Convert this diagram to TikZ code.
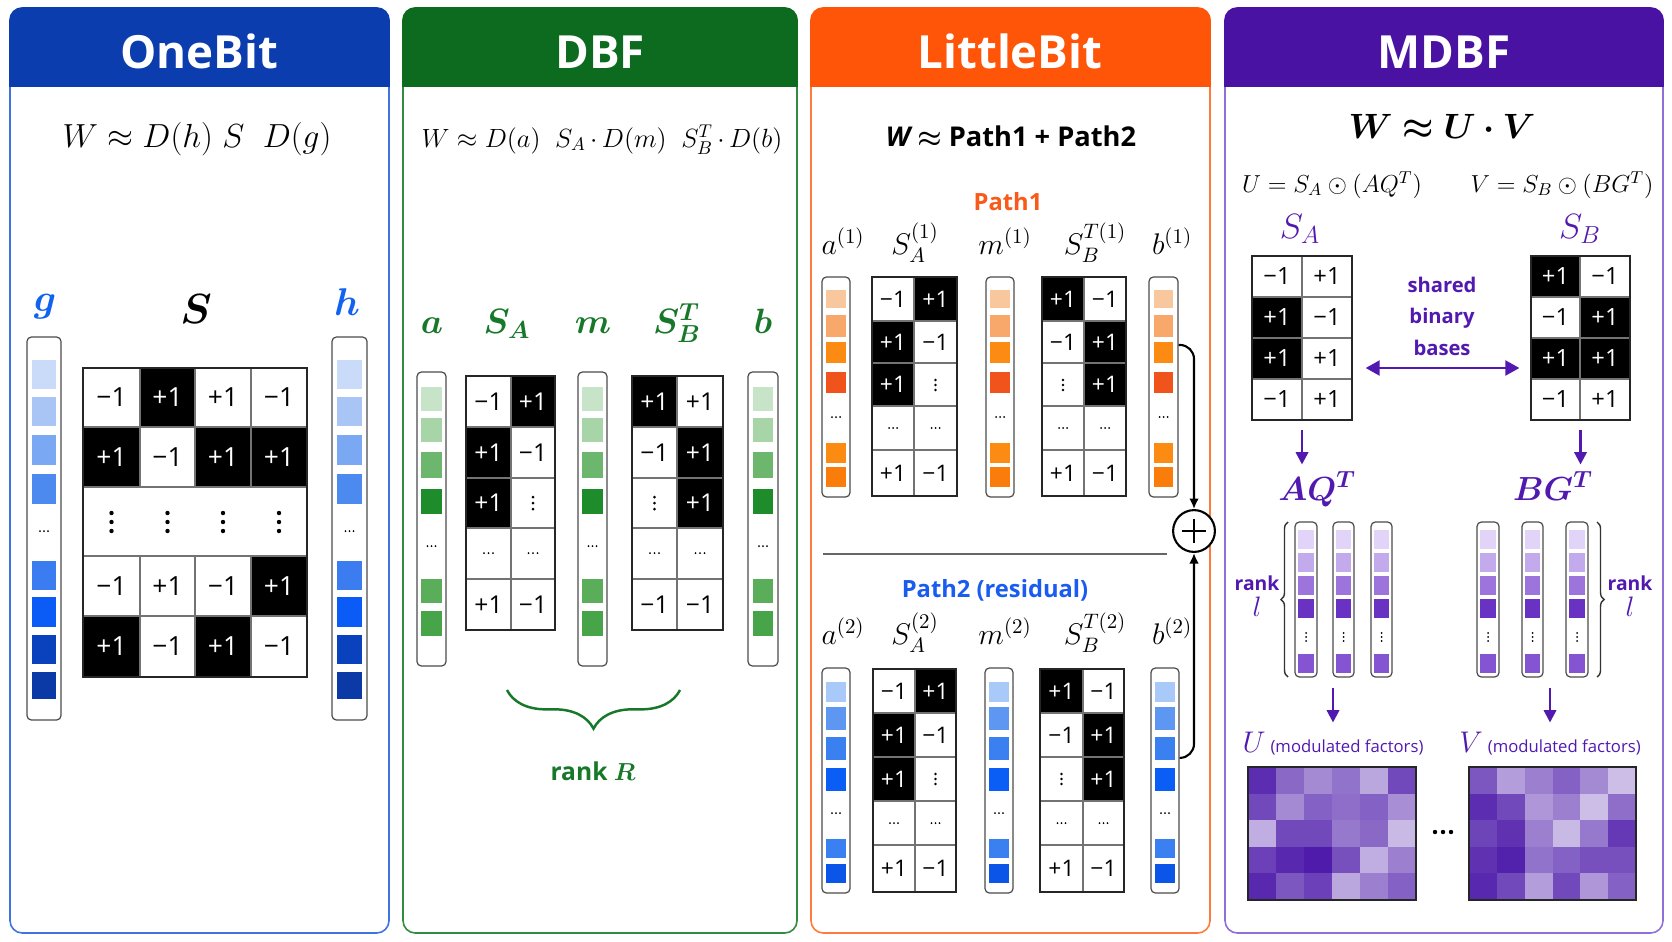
\RequirePackage{fix-cm}
\documentclass[tikz,border=0pt]{standalone}
\usepackage{amsmath,bm}
\usepackage[no-math]{fontspec}
\setmainfont{Open Sans}
\usetikzlibrary{arrows.meta,calc,fit,decorations.pathreplacing}
\newcommand\FS[1]{\fontsize{#1}{#1}\selectfont}
\definecolor{obHead}{HTML}{0B3DAF}\definecolor{obLine}{HTML}{3F73E0}\definecolor{obLab}{HTML}{1262F0}
\definecolor{dbHead}{HTML}{0D6B1F}\definecolor{dbLine}{HTML}{2F8C40}\definecolor{dbLab}{HTML}{17782A}
\definecolor{lbHead}{HTML}{FF5509}\definecolor{lbLine}{HTML}{FF7A3D}\definecolor{lbPath}{HTML}{F85A1A}\definecolor{lbBlue}{HTML}{1A5CF0}
\definecolor{mdHead}{HTML}{4A12A2}\definecolor{mdLine}{HTML}{9070D8}\definecolor{mdLab}{HTML}{5219B0}\definecolor{hp}{HTML}{4A16A8}
\definecolor{ob1}{HTML}{C9DBF8}\definecolor{ob2}{HTML}{A9C5F5}\definecolor{ob3}{HTML}{7BA8F2}\definecolor{ob4}{HTML}{4C8AF0}
\definecolor{ob5}{HTML}{3B7DF0}\definecolor{ob6}{HTML}{0B5CF6}\definecolor{ob7}{HTML}{0A42BD}\definecolor{ob8}{HTML}{0B3AA6}
\definecolor{g1}{HTML}{C8E4C8}\definecolor{g2}{HTML}{A8D5A8}\definecolor{g3}{HTML}{6DB66D}\definecolor{g4}{HTML}{1E8C2A}\definecolor{g5}{HTML}{5AAE5A}\definecolor{g6}{HTML}{48A448}
\definecolor{o1}{HTML}{F9C79E}\definecolor{o2}{HTML}{F9A86C}\definecolor{o3}{HTML}{FB8B12}\definecolor{o4}{HTML}{F0541C}\definecolor{o5}{HTML}{FB8B12}\definecolor{o6}{HTML}{FA7C0A}
\definecolor{p1}{HTML}{A9C9F8}\definecolor{p2}{HTML}{5E97F1}\definecolor{p3}{HTML}{3A80F0}\definecolor{p4}{HTML}{0B5EF5}\definecolor{p5}{HTML}{3A80F0}\definecolor{p6}{HTML}{0B56E8}
\definecolor{u1}{HTML}{E2D4F8}\definecolor{u2}{HTML}{C2AAEC}\definecolor{u3}{HTML}{9C74DC}\definecolor{u4}{HTML}{6A32C2}\definecolor{u5}{HTML}{8454D2}
\tikzset{
  panelbox/.style={line width=0.9pt, rounded corners=7pt, fill=white},
  bar/.style={draw=black!70, line width=0.7pt, rounded corners=2.5pt, inner sep=0pt},
  matbox/.style={draw=black!85, line width=0.75pt, inner sep=0pt},
  gridl/.style={draw=black!55, line width=0.6pt},
  cnum/.style={inner sep=0pt},
  title/.style={text=white, font=\FS{26}\bfseries, anchor=base},
  lab/.style={anchor=base, inner sep=0pt},
  conn/.style={draw=black, line width=1.2pt, -{Latex[length=6pt,width=5.5pt]}},
  parrow/.style={draw=mdLab, line width=1.4pt, -{Triangle[length=7pt,width=7pt]}},
  pdarrow/.style={draw=mdLab, line width=1.5pt, {Triangle[length=8pt,width=8.5pt]}-{Triangle[length=8pt,width=8.5pt]}},
  brc/.style={decorate, line width=0.8pt, draw=black!80},
}
\newcounter{cellno}
\newcommand\CB[6]{\fill[black] (#1,#2) rectangle (#3,#4);\stepcounter{cellno}\node[cnum,text=white,font=\FS{#6}] (cell\the\value{cellno}) at ({(#1+#3)/2},{(#2+#4)/2}) {#5};}
\newcommand\CW[6]{\stepcounter{cellno}\node[cnum,font=\FS{#6}] (cell\the\value{cellno}) at ({(#1+#3)/2},{(#2+#4)/2}) {#5};}
\newcommand\CN[6]{}
\newcommand\Cell[6]{\csname C#5\endcsname{#1}{#2}{#3}{#4}{#6}{\cellsize}}
\newcommand\RowTwo[9]{\Cell{#1}{#4}{#2}{#5}{#6}{#7}\Cell{#2}{#4}{#3}{#5}{#8}{#9}}
\newcommand\HDots[4]{\foreach \k in {-1,0,1} {\fill ({#1+\k*#3},#2) circle[radius=#4];}}
\newcommand\VDots[4]{\foreach \k in {-1,0,1} {\fill (#1,{#2+\k*#3}) circle[radius=#4];}}
\newcommand\VBar[9]{%
  \node[bar, fit={(#2,#4) (#3,#5)}] (#1) {};
  \edef\barlist{#7}%
  \foreach \ya/\yb/\cc in \barlist {\fill[\cc] ({#2+#6},\ya) rectangle ({#3-#6},\yb);}
  \pgfmathsetmacro\bx{(#2+#3)/2}#9{\bx}{#8}{4}{1}}
\newcommand\MatTwo[7]{%
  \draw[gridl] (#3,#5)--(#3,#6); \foreach \yy in {#7} {\draw[gridl] (#2,\yy)--(#4,\yy);}
  \node[matbox, fit={(#2,#5) (#4,#6)}] (#1) {};}
\def\mo{−1}\def\po{+1}
\begin{document}
\begin{tikzpicture}[x=0.02cm,y=-0.02cm]
\useasboundingbox (0,0) rectangle (1672,941);
\fill[white] (0,0) rectangle (1672,941);
% ---------- panels
\draw[panelbox, draw=obLine] (10,8) rectangle (389,933);
\filldraw[obHead, line width=0.9pt, rounded corners=7pt] (10,8) rectangle (389,86);
\filldraw[obHead, line width=0.9pt] (10,45) rectangle (389,86);
\node[title] (t1) at (199.5,68) {OneBit};
\draw[panelbox, draw=dbLine] (403,8) rectangle (797,933);
\filldraw[dbHead, line width=0.9pt, rounded corners=7pt] (403,8) rectangle (797,86);
\filldraw[dbHead, line width=0.9pt] (403,45) rectangle (797,86);
\node[title] (t2) at (600,68) {DBF};
\draw[panelbox, draw=lbLine] (811,8) rectangle (1210,933);
\filldraw[lbHead, line width=0.9pt, rounded corners=7pt] (811,8) rectangle (1210,86);
\filldraw[lbHead, line width=0.9pt] (811,45) rectangle (1210,86);
\node[title] (t3) at (1010,68) {LittleBit};
\draw[panelbox, draw=mdLine] (1225,8) rectangle (1663,933);
\filldraw[mdHead, line width=0.9pt, rounded corners=7pt] (1225,8) rectangle (1663,86);
\filldraw[mdHead, line width=0.9pt] (1225,45) rectangle (1663,86);
\node[title] (t4) at (1444,68) {MDBF};
% ---------- OneBit
\node[lab] (f1) at (197,147) {\FS{19}$W \approx D(h)\;S\;\;D(g)$};
\node[lab, text=obLab] (lg) at (45,311) {\FS{22}$\bm{g}$};
\node[lab] (lS) at (196,323) {\FS{24}$\bm{S}$};
\node[lab, text=obLab] (lh) at (347,315) {\FS{22}$\bm{h}$};
\def\blist{360/389/ob1,397/426/ob2,435/465/ob3,474/504/ob4,561/590/ob5,597/627/ob6,635/664/ob7,672/699/ob8}
\VBar{gv}{27}{61}{337}{720}{5}{\blist}{531}{\HDots}
\VBar{hv}{332}{367}{337}{720}{5}{\blist}{531}{\HDots}
\def\cellsize{15}
\Cell{83}{368}{140}{427}{W}{\mo}\Cell{140}{368}{195}{427}{B}{\po}\Cell{195}{368}{251}{427}{W}{\po}\Cell{251}{368}{307}{427}{W}{\mo}
\Cell{83}{427}{140}{487}{B}{\po}\Cell{140}{427}{195}{487}{W}{\mo}\Cell{195}{427}{251}{487}{B}{\po}\Cell{251}{427}{307}{487}{B}{\po}
\Cell{83}{556}{140}{616}{W}{\mo}\Cell{140}{556}{195}{616}{W}{\po}\Cell{195}{556}{251}{616}{W}{\mo}\Cell{251}{556}{307}{616}{B}{\po}
\Cell{83}{616}{140}{677}{B}{\po}\Cell{140}{616}{195}{677}{W}{\mo}\Cell{195}{616}{251}{677}{B}{\po}\Cell{251}{616}{307}{677}{W}{\mo}
\draw[gridl] (83,427)--(307,427) (83,487)--(307,487) (83,556)--(307,556) (83,616)--(307,616);
\draw[gridl] (140,368)--(140,487) (195,368)--(195,487) (251,368)--(251,487) (140,556)--(140,677) (195,556)--(195,677) (251,556)--(251,677);
\node[matbox, fit={(83,368) (307,677)}] (Smat) {};
\foreach \xx in {111.5,167.5,223,279} {\VDots{\xx}{522}{9}{2.2}}
% ---------- DBF
\node[lab] (f2) at (602,147) {\FS{15}$W \approx D(a)\;\;S_A{\,\cdot\,}D(m)\;\;S_B^T{\,\cdot\,}D(b)$};
\node[lab, text=dbLab] (la) at (432,333) {\FS{20}$\bm{a}$};
\node[lab, text=dbLab] (lsa) at (507,333) {\FS{20}$\bm{S_A}$};
\node[lab, text=dbLab] (lm) at (593,333) {\FS{20}$\bm{m}$};
\node[lab, text=dbLab] (lsb) at (677,333) {\FS{20}$\bm{S_B^T}$};
\node[lab, text=dbLab] (lb) at (763,333) {\FS{20}$\bm{b}$};
\def\glist{387/411/g1,418/442/g2,452/478/g3,489/514/g4,579/603/g5,611/636/g6}
\VBar{av}{417}{446}{372}{666}{4}{\glist}{546}{\HDots}
\VBar{mv}{578}{607}{372}{666}{4}{\glist}{546}{\HDots}
\VBar{bv}{748}{778}{372}{666}{5}{\glist}{546}{\HDots}
\def\cellsize{14}
\RowTwo{466}{511}{555}{376}{427}{W}{\mo}{B}{\po}
\RowTwo{466}{511}{555}{427}{478}{B}{\po}{W}{\mo}
\RowTwo{466}{511}{555}{478}{528}{B}{\po}{N}{}
\RowTwo{466}{511}{555}{579}{630}{W}{\po}{W}{\mo}
\MatTwo{SAd}{466}{511}{555}{376}{630}{427,478,528,579}
\VDots{533}{503}{6}{1.5}\HDots{488.5}{553}{4.5}{1}\HDots{533}{553}{4.5}{1}
\RowTwo{632}{677}{723}{376}{427}{B}{\po}{W}{\po}
\RowTwo{632}{677}{723}{427}{478}{W}{\mo}{B}{\po}
\RowTwo{632}{677}{723}{478}{528}{N}{}{B}{\po}
\RowTwo{632}{677}{723}{579}{630}{W}{\mo}{W}{\mo}
\MatTwo{SBd}{632}{677}{723}{376}{630}{427,478,528,579}
\VDots{654.5}{503}{6}{1.5}\HDots{654.5}{553}{4.5}{1}\HDots{700}{553}{4.5}{1}
\draw[brc, draw=dbLab, line width=1.4pt, decoration={brace, amplitude=22pt}] (680,690) -- (507,690);
\node[lab, text=dbLab] (rkR) at (593,780) {\FS{14}\bfseries rank $\bm{R}$};
% ---------- LittleBit
\node[lab] (f3) at (1011,146) {\FS{15.5}\bfseries{\itshape W} $\bm{\approx}$ Path1 + Path2};
\node[lab, text=lbPath] (p1l) at (1008,210) {\FS{13.5}\bfseries Path1};
\node[lab] (la1) at (843,254) {\FS{17}$a^{(1)}$};
\node[lab] (lsa1) at (915,254) {\FS{17}$S_A^{(1)}$};
\node[lab] (lm1) at (1005,254) {\FS{17}$m^{(1)}$};
\node[lab] (lsb1) at (1095,254) {\FS{17}$S_B^{T(1)}$};
\node[lab] (lb1) at (1172,254) {\FS{17}$b^{(1)}$};
\def\olist{290/308/o1,315/337/o2,342/363/o3,372/393/o4,443/463/o5,467/487/o6}
\VBar{a1}{822}{850}{277}{497}{4}{\olist}{417}{\HDots}
\VBar{m1}{986}{1014}{277}{497}{4}{\olist}{417}{\HDots}
\VBar{b1}{1149}{1178}{277}{497}{5}{\olist}{417}{\HDots}
\def\cellsize{13}
\RowTwo{872}{914}{957}{277}{321}{W}{\mo}{B}{\po}
\RowTwo{872}{914}{957}{321}{363}{B}{\po}{W}{\mo}
\RowTwo{872}{914}{957}{363}{406}{B}{\po}{N}{}
\RowTwo{872}{914}{957}{450}{496}{W}{\po}{W}{\mo}
\MatTwo{SA1}{872}{914}{957}{277}{496}{321,363,406,450}
\VDots{935.5}{385}{5}{1.3}\HDots{893}{428}{4}{1}\HDots{935.5}{428}{4}{1}
\RowTwo{1042}{1084}{1126}{277}{321}{B}{\po}{W}{\mo}
\RowTwo{1042}{1084}{1126}{321}{363}{W}{\mo}{B}{\po}
\RowTwo{1042}{1084}{1126}{363}{406}{N}{}{B}{\po}
\RowTwo{1042}{1084}{1126}{450}{496}{W}{\po}{W}{\mo}
\MatTwo{SB1}{1042}{1084}{1126}{277}{496}{321,363,406,450}
\VDots{1063}{385}{5}{1.3}\HDots{1063}{428}{4}{1}\HDots{1105}{428}{4}{1}
\draw[draw=black!60, line width=0.8pt] (823,554) -- (1167,554);
\node[lab, text=lbBlue] (p2l) at (995,597) {\FS{13.5}\bfseries Path2 (residual)};
\node[lab] (la2) at (843,644) {\FS{17}$a^{(2)}$};
\node[lab] (lsa2) at (915,644) {\FS{17}$S_A^{(2)}$};
\node[lab] (lm2) at (1005,644) {\FS{17}$m^{(2)}$};
\node[lab] (lsb2) at (1095,644) {\FS{17}$S_B^{T(2)}$};
\node[lab] (lb2) at (1172,644) {\FS{17}$b^{(2)}$};
\def\plist{682/702/p1,707/730/p2,737/760/p3,768/791/p4,839/858/p5,864/883/p6}
\VBar{a2}{822}{850}{668}{893}{4}{\plist}{813}{\HDots}
\VBar{m2}{985}{1013}{668}{893}{4}{\plist}{813}{\HDots}
\VBar{b2}{1151}{1179}{668}{893}{4}{\plist}{813}{\HDots}
\RowTwo{873}{915}{956}{669}{713}{W}{\mo}{B}{\po}
\RowTwo{873}{915}{956}{713}{757}{B}{\po}{W}{\mo}
\RowTwo{873}{915}{956}{757}{801}{B}{\po}{N}{}
\RowTwo{873}{915}{956}{845}{892}{W}{\po}{W}{\mo}
\MatTwo{SA2}{873}{915}{956}{669}{892}{713,757,801,845}
\VDots{935.5}{779}{5}{1.3}\HDots{894}{823}{4}{1}\HDots{935.5}{823}{4}{1}
\RowTwo{1040}{1083}{1124}{669}{713}{B}{\po}{W}{\mo}
\RowTwo{1040}{1083}{1124}{713}{757}{W}{\mo}{B}{\po}
\RowTwo{1040}{1083}{1124}{757}{801}{N}{}{B}{\po}
\RowTwo{1040}{1083}{1124}{845}{892}{W}{\po}{W}{\mo}
\MatTwo{SB2}{1040}{1083}{1124}{669}{892}{713,757,801,845}
\VDots{1061.5}{779}{5}{1.3}\HDots{1061.5}{823}{4}{1}\HDots{1103.5}{823}{4}{1}
\node[draw, circle, line width=1.2pt, fill=white, minimum size=23.8pt, inner sep=0pt] (plus) at (1194,531) {};
\draw[line width=1.3pt] ($(plus.center)+(-12,0)$) -- ($(plus.center)+(12,0)$) ($(plus.center)+(0,-12)$) -- ($(plus.center)+(0,12)$);
\draw[conn, rounded corners=8pt] ($(b1.north east)!0.31!(b1.south east)$) -| (plus.north);
\draw[conn, rounded corners=8pt] ($(b2.north east)!0.4!(b2.south east)$) -| (plus.south);
% ---------- MDBF
\node[lab] (f4) at (1442,138) {\FS{20}$\bm{W \approx U \cdot V}$};
\node[lab] (fu) at (1332,192) {\FS{14}$U = S_A \odot (AQ^T)$};
\node[lab] (fv) at (1562,192) {\FS{14}$V = S_B \odot (BG^T)$};
\node[lab, text=mdLab] (lSA) at (1300,238) {\FS{20}$S_A$};
\node[lab, text=mdLab] (lSB) at (1580,238) {\FS{20}$S_B$};
\def\cellsize{13.5}
\RowTwo{1252}{1302}{1352}{256}{297}{W}{\mo}{W}{\po}
\RowTwo{1252}{1302}{1352}{297}{338}{B}{\po}{W}{\mo}
\RowTwo{1252}{1302}{1352}{338}{379}{B}{\po}{W}{\po}
\RowTwo{1252}{1302}{1352}{379}{420}{W}{\mo}{W}{\po}
\MatTwo{SAm}{1252}{1302}{1352}{256}{420}{297,338,379}
\RowTwo{1531}{1580}{1630}{256}{297}{B}{\po}{W}{\mo}
\RowTwo{1531}{1580}{1630}{297}{338}{W}{\mo}{B}{\po}
\RowTwo{1531}{1580}{1630}{338}{379}{B}{\po}{B}{\po}
\RowTwo{1531}{1580}{1630}{379}{420}{W}{\mo}{W}{\po}
\MatTwo{SBm}{1531}{1580}{1630}{256}{420}{297,338,379}
\node[lab, text=mdLab] (sh1) at (1442,292) {\FS{11.5}\bfseries shared};
\node[lab, text=mdLab] (sh2) at (1442,323) {\FS{11.5}\bfseries binary};
\node[lab, text=mdLab] (sh3) at (1442,355) {\FS{11.5}\bfseries bases};
\draw[pdarrow] ($(SAm.east)+(13,30)$) -- ($(SBm.west)+(-11,30)$);
\node[lab, text=mdLab] (AQl) at (1317,500) {\FS{19}$\bm{AQ^T}$};
\node[lab, text=mdLab] (BGl) at (1553,500) {\FS{19}$\bm{BG^T}$};
\draw[parrow, shorten <=5.5pt, shorten >=4pt] (SAm.south) -- (SAm.south |- AQl.north);
\draw[parrow, shorten <=5.5pt, shorten >=4pt] (SBm.south) -- (SBm.south |- BGl.north);
\def\ulist{530/549/u1,553/572/u2,576/595/u3,599/618/u4,654/673/u5}
\VBar{q1}{1295}{1317}{522}{677}{3}{\ulist}{637}{\VDots}
\VBar{q2}{1333}{1354}{522}{677}{3}{\ulist}{637}{\VDots}
\VBar{q3}{1371}{1392}{522}{677}{3}{\ulist}{637}{\VDots}
\VBar{r1}{1477}{1499}{522}{677}{3}{\ulist}{637}{\VDots}
\VBar{r2}{1522}{1543}{522}{677}{3}{\ulist}{637}{\VDots}
\VBar{r3}{1566}{1588}{522}{677}{3}{\ulist}{637}{\VDots}
\draw[brc, decoration={brace, amplitude=4pt}] (1288,677) -- (1288,522);
\draw[brc, decoration={brace, amplitude=4pt}] (1597,522) -- (1597,677);
\node[lab, text=mdLab] (rk1) at (1257,590) {\FS{11}\bfseries rank};
\node[lab, text=mdLab] (rl1) at (1257,616) {\FS{16}$l$};
\node[lab, text=mdLab] (rk2) at (1630,590) {\FS{11}\bfseries rank};
\node[lab, text=mdLab] (rl2) at (1630,616) {\FS{16}$l$};
\node[lab, text=mdLab] (Ul) at (1333,752) {\FS{17}$U$\,{\FS{9.5}(modulated factors)}};
\node[lab, text=mdLab] (Vl) at (1550,752) {\FS{17}$V$\,{\FS{9.5}(modulated factors)}};
\draw[parrow, shorten <=6pt, shorten >=5pt] (Ul.north |- q2.south) -- (Ul.north);
\draw[parrow, shorten <=6pt, shorten >=5pt] (Vl.north |- r2.south) -- (Vl.north);
\foreach \r/\row in {0/{90,65,50,60,38,78},1/{78,50,68,62,68,48},2/{35,78,78,58,65,30},3/{82,92,98,75,35,55},4/{92,72,82,38,55,68}}
  {\foreach \v [count=\c from 0] in \row {\fill[hp!\v!white] ({1248+\c*28},{767+\r*26.6}) rectangle ++(28,26.6);}}
\node[matbox, fit={(1248,767) (1416,900)}] (Umap) {};
\foreach \r/\row in {0/{72,42,55,68,50,28},1/{90,78,45,55,28,62},2/{80,88,55,30,58,85},3/{88,95,60,68,75,75},4/{92,78,42,78,45,68}}
  {\foreach \v [count=\c from 0] in \row {\fill[hp!\v!white] ({1469+\c*27.83},{767+\r*26.6}) rectangle ++(27.83,26.6);}}
\node[matbox, fit={(1469,767) (1636,900)}] (Vmap) {};
\HDots{1443}{832}{8}{2.2}
\end{tikzpicture}
\end{document}
